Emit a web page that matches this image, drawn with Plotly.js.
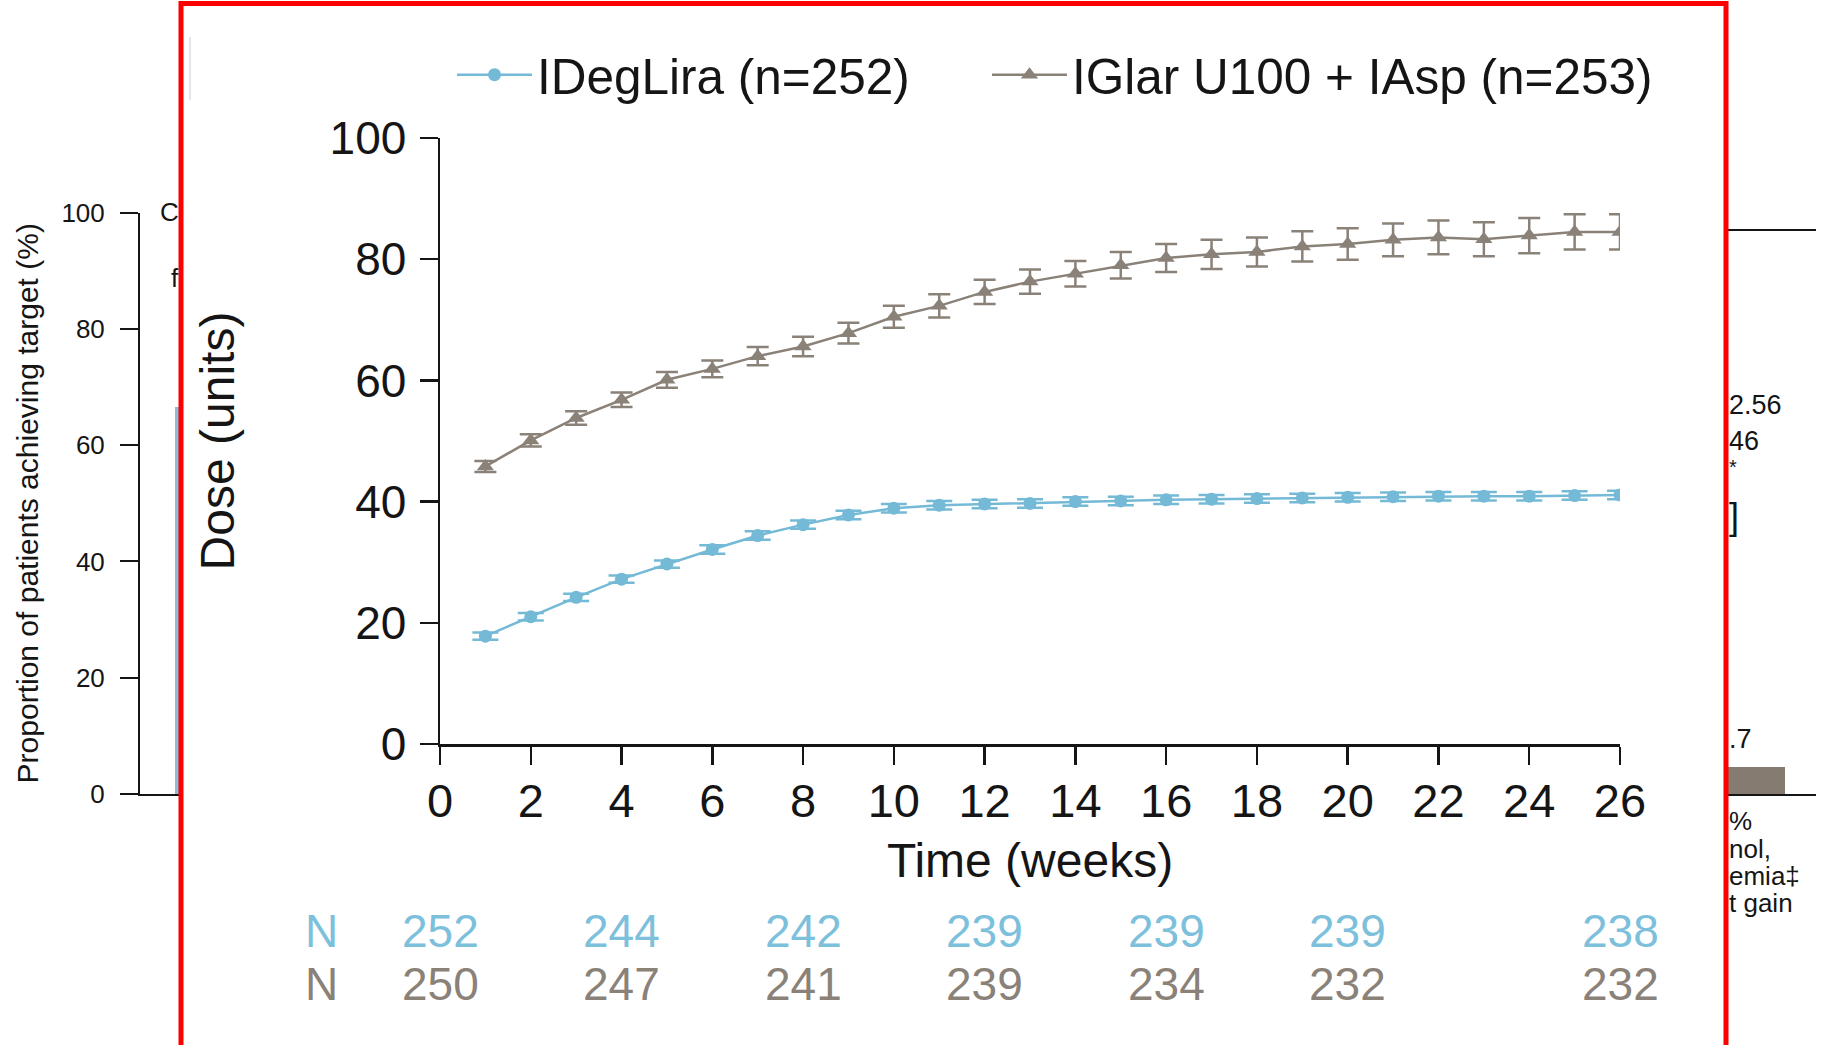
<!DOCTYPE html>
<html>
<head>
<meta charset="utf-8">
<script src="https://cdn.plot.ly/plotly-3.0.1.min.js"></script>
<style>
  html, body { margin: 0; padding: 0; background: #ffffff; }
  #chart { width: 1831px; height: 1045px; }
</style>
</head>
<body>
<div id="chart"></div>
<script>
// ---- Data ----
const weeks = [1, 2, 3, 4, 5, 6, 7, 8, 9, 10, 11, 12, 13, 14, 15, 16, 17, 18, 19, 20, 21, 22, 23, 24, 25, 26];
const idegliraDose = [17.8, 21.0, 24.2, 27.2, 29.7, 32.1, 34.4, 36.2, 37.8, 38.9, 39.4, 39.6, 39.7, 40.0, 40.1, 40.3, 40.4, 40.5, 40.6, 40.7, 40.8, 40.9, 40.9, 40.9, 41.0, 41.1];
const idegliraErr = [0.6, 0.6, 0.6, 0.6, 0.6, 0.7, 0.7, 0.7, 0.7, 0.7, 0.7, 0.7, 0.7, 0.7, 0.7, 0.7, 0.7, 0.7, 0.7, 0.7, 0.7, 0.7, 0.7, 0.7, 0.7, 0.7];
const iglarDose = [45.8, 50.1, 53.8, 56.8, 60.1, 61.9, 64.0, 65.6, 67.8, 70.5, 72.3, 74.6, 76.3, 77.6, 79.0, 80.2, 80.8, 81.2, 82.1, 82.5, 83.2, 83.6, 83.3, 83.9, 84.5, 84.5];
const iglarErr = [0.9, 1.0, 1.1, 1.2, 1.3, 1.4, 1.5, 1.6, 1.7, 1.8, 1.9, 2.0, 2.0, 2.1, 2.2, 2.3, 2.4, 2.4, 2.5, 2.6, 2.7, 2.8, 2.8, 2.9, 2.9, 2.9];

const seriesNames = ["IDegLira (n=252)", "IGlar U100 + IAsp (n=253)"];
const xTicks = [0, 2, 4, 6, 8, 10, 12, 14, 16, 18, 20, 22, 24, 26];
const yTicks = [0, 20, 40, 60, 80, 100];

// Numbers at risk
const nWeeks = [0, 4, 8, 12, 16, 20, 26];
const nIDegLira = [252, 244, 242, 239, 239, 239, 238];
const nIGlar = [250, 247, 241, 239, 234, 232, 232];

// Partly hidden background slide
const backTicks = [0, 20, 40, 60, 80, 100];
const backLeftBar = [66.5];
const backRightBar = [4.7];
const backRightTexts = ["2.56", "46", "*", "]", ".7", "%", "nol,", "emia‡", "t gain"];

// ---- Styling ----
const W = 1831, H = 1045;
const px = v => v / W;
const py = v => 1 - v / H;
const FONT = "Liberation Sans, Arial, Helvetica, sans-serif";
const BLUE = "#74BAD6";
const BLUE_TXT = "#7DC0DC";
const GREY = "#8A8178";
const GREY_TXT = "#8A8178";
const INK = "#151515";

const traces = [
  {
    type: "scatter", mode: "lines+markers", name: seriesNames[0], legend: "legend",
    x: weeks, y: idegliraDose, xaxis: "x", yaxis: "y",
    line: { color: BLUE, width: 2.5 },
    marker: { color: BLUE, size: 13, symbol: "circle" },
    error_y: { type: "data", array: idegliraErr, visible: true, color: BLUE, thickness: 2.5, width: 13 }
  },
  {
    type: "scatter", mode: "lines+markers", name: seriesNames[1], legend: "legend2",
    x: weeks, y: iglarDose, xaxis: "x", yaxis: "y",
    line: { color: GREY, width: 2.5 },
    marker: { color: GREY, size: 15, symbol: "triangle-up" },
    error_y: { type: "data", array: iglarErr, visible: true, color: GREY, thickness: 2.5, width: 11 }
  },
  {
    type: "bar", x: [1], y: backLeftBar, width: [0.3], xaxis: "x2", yaxis: "y2",
    marker: { color: "#8FBBD7" }, showlegend: false, hoverinfo: "skip"
  },
  {
    type: "bar", x: [0.3], y: backRightBar, width: [0.7], xaxis: "x3", yaxis: "y3",
    marker: { color: "#857B71" }, showlegend: false, hoverinfo: "skip"
  }
];

const annotations = [];
nWeeks.forEach((w, i) => {
  annotations.push({ x: w, xref: "x", y: py(931), yref: "paper", text: String(nIDegLira[i]),
    showarrow: false, xanchor: "center", yanchor: "middle", font: { family: FONT, size: 46, color: BLUE_TXT } });
  annotations.push({ x: w, xref: "x", y: py(984), yref: "paper", text: String(nIGlar[i]),
    showarrow: false, xanchor: "center", yanchor: "middle", font: { family: FONT, size: 46, color: GREY_TXT } });
});
annotations.push({ x: px(321), xref: "paper", y: py(931), yref: "paper", text: "N", showarrow: false,
  xanchor: "center", yanchor: "middle", font: { family: FONT, size: 46, color: BLUE_TXT } });
annotations.push({ x: px(321), xref: "paper", y: py(984), yref: "paper", text: "N", showarrow: false,
  xanchor: "center", yanchor: "middle", font: { family: FONT, size: 46, color: GREY_TXT } });

// fragments of background slide text
annotations.push({ x: px(181), xref: "paper", y: py(212), yref: "paper", text: "C", showarrow: false,
  xanchor: "right", yanchor: "middle", font: { family: FONT, size: 26, color: INK } });
annotations.push({ x: px(181), xref: "paper", y: py(278), yref: "paper", text: "f", showarrow: false,
  xanchor: "right", yanchor: "middle", font: { family: FONT, size: 26, color: INK } });
const rightY = [405, 441, 467, 516, 739, 821, 849, 876, 903];
const rightSize = [27, 27, 20, 36, 27, 26, 26, 26, 26];
backRightTexts.forEach((t, i) => {
  annotations.push({ x: px(1727), xref: "paper", y: py(rightY[i]), yref: "paper", text: t, showarrow: false,
    xanchor: "left", yanchor: "middle", font: { family: FONT, size: rightSize[i], color: INK } });
});

const axisCommon = {
  showgrid: false, zeroline: false, showline: true, linecolor: INK, linewidth: 2.5,
  ticks: "outside", ticklen: 18, tickwidth: 2.5, tickcolor: INK, fixedrange: true
};

const legendCommon = {
  orientation: "h", yanchor: "middle", xanchor: "left", y: py(75),
  font: { family: FONT, size: 49.5, color: INK }, bgcolor: "rgba(0,0,0,0)",
  itemwidth: 75, itemsizing: "trace"
};

const layout = {
  width: W, height: H, autosize: false,
  margin: { l: 0, r: 0, t: 0, b: 0, pad: 0 },
  paper_bgcolor: "#ffffff", plot_bgcolor: "rgba(0,0,0,0)",
  font: { family: FONT, color: INK },
  showlegend: true,
  legend: Object.assign({}, legendCommon, { x: px(452) }),
  legend2: Object.assign({}, legendCommon, { x: px(987) }),
  xaxis: Object.assign({}, axisCommon, {
    domain: [px(440), px(1620)], range: [0, 26], anchor: "y",
    tickmode: "array", tickvals: xTicks, ticktext: xTicks.map(String),
    tickfont: { family: FONT, size: 47, color: INK }, ticklabelstandoff: -4,
    title: { text: "Time (weeks)", font: { family: FONT, size: 48, color: INK }, standoff: 18 }
  }),
  yaxis: Object.assign({}, axisCommon, {
    domain: [py(744), py(138)], range: [0, 100], anchor: "x",
    tickmode: "array", tickvals: yTicks, ticktext: yTicks.map(String),
    tickfont: { family: FONT, size: 46, color: INK }, ticklabelstandoff: 4,
    title: { text: "Dose (units)", font: { family: FONT, size: 48, color: INK }, standoff: 80 }
  }),
  xaxis2: {
    domain: [px(140), px(181)], range: [0, 1], anchor: "y2", showgrid: false, zeroline: false,
    showline: true, linecolor: INK, linewidth: 2, ticks: "", showticklabels: false, fixedrange: true
  },
  yaxis2: {
    domain: [py(794), py(212.5)], range: [0, 100], anchor: "x2", showgrid: false, zeroline: false,
    showline: true, linecolor: INK, linewidth: 2, ticks: "outside", ticklen: 18, tickwidth: 2, tickcolor: INK,
    tickmode: "array", tickvals: backTicks, ticktext: backTicks.map(String), ticklabelstandoff: 10,
    tickfont: { family: FONT, size: 26, color: INK }, fixedrange: true,
    title: { text: "Proportion of patients achieving target (%)", font: { family: FONT, size: 30, color: INK }, standoff: 14 }
  },
  xaxis3: {
    domain: [px(1726), px(1816)], range: [0, 1], anchor: "y3", showgrid: false, zeroline: false,
    showline: true, linecolor: INK, linewidth: 2, ticks: "", showticklabels: false, fixedrange: true
  },
  yaxis3: {
    domain: [py(794), py(212.5)], range: [0, 100], anchor: "x3", visible: false, fixedrange: true
  },
  bargap: 0,
  shapes: [
    { type: "line", xref: "paper", yref: "paper", x0: px(1726), x1: px(1816), y0: py(230), y1: py(230),
      line: { color: INK, width: 2 } },
    { type: "line", xref: "paper", yref: "paper", x0: px(190), x1: px(190), y0: py(37), y1: py(100),
      line: { color: "#dcdcdc", width: 1.5 } },
    { type: "rect", xref: "paper", yref: "paper", x0: px(181), x1: px(1726), y0: py(3.5), y1: py(1070),
      line: { color: "#FF0000", width: 5 }, fillcolor: "rgba(0,0,0,0)", layer: "above" }
  ],
  annotations: annotations
};

Plotly.newPlot("chart", traces, layout, { displayModeBar: false, staticPlot: true });
</script>
</body>
</html>
